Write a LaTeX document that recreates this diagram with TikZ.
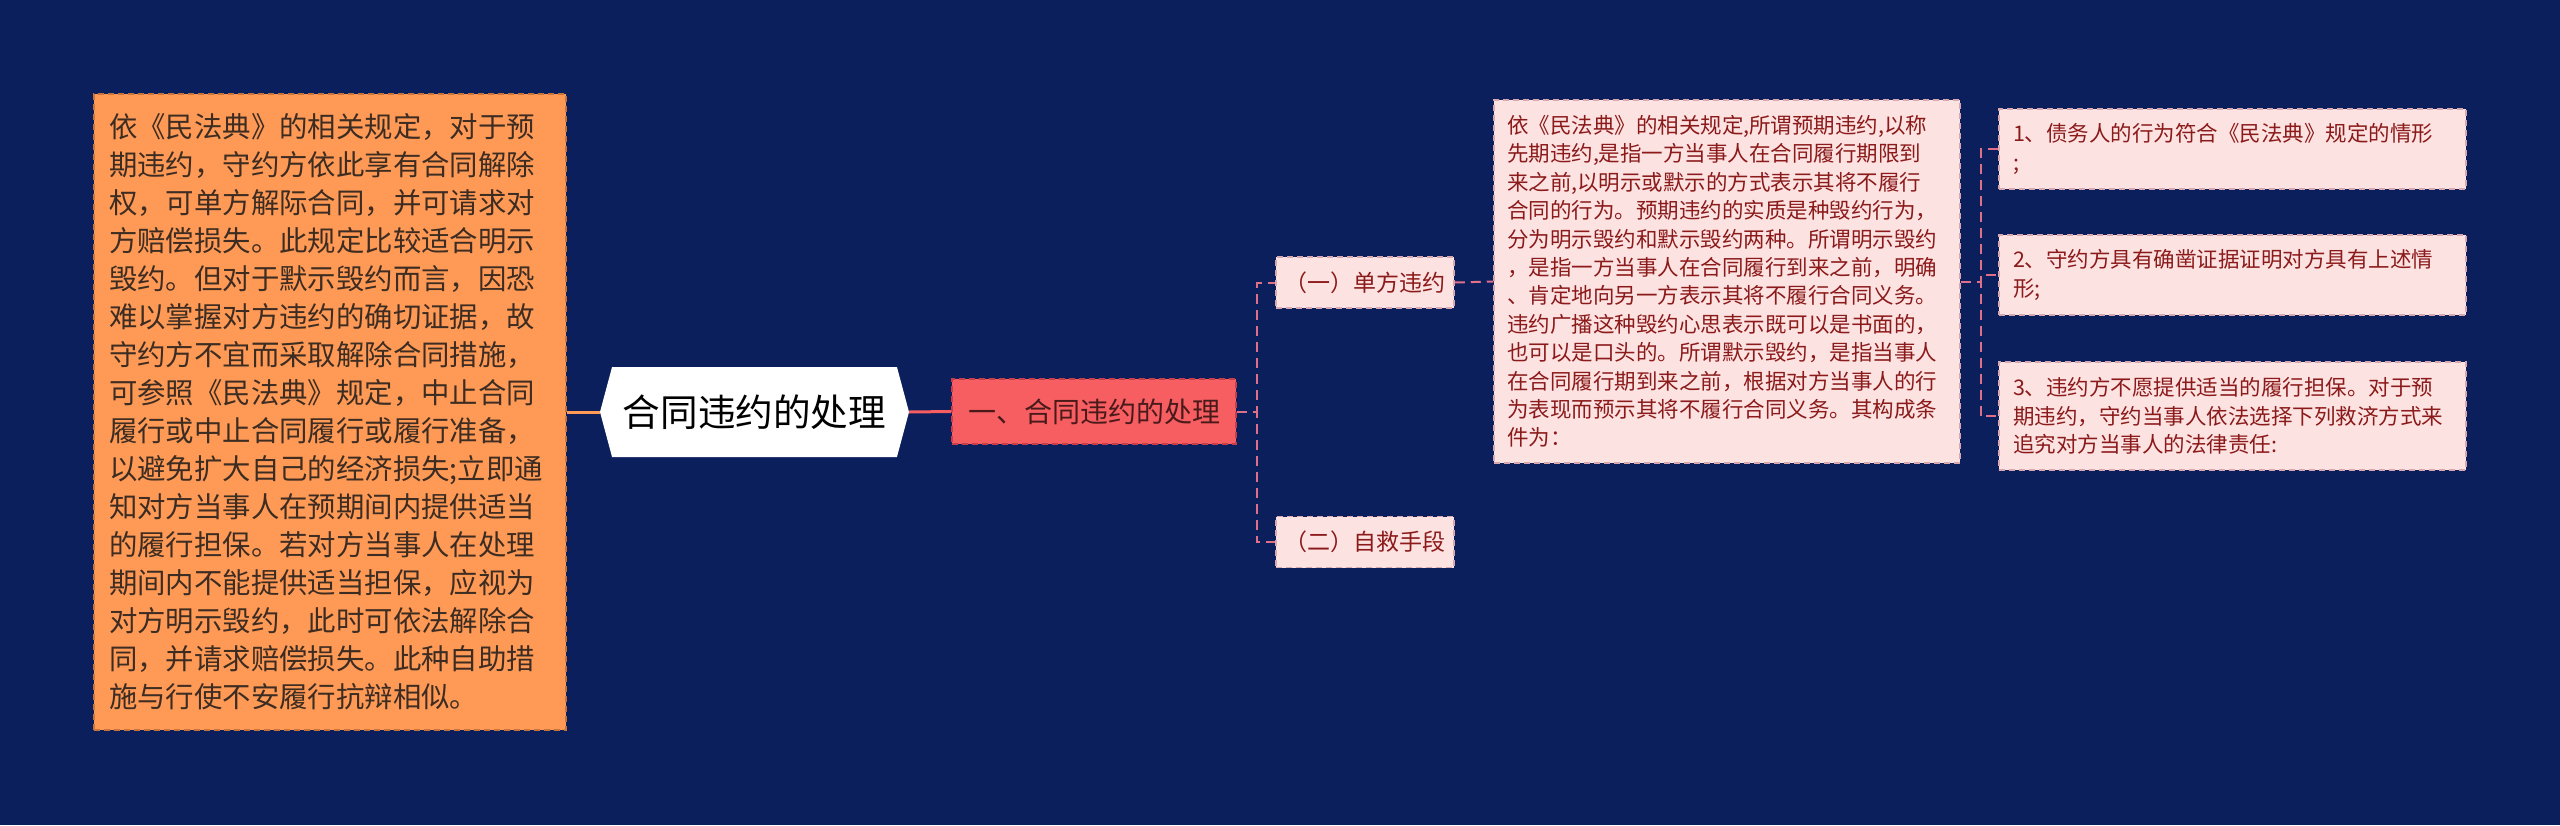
\documentclass[tikz,border=0pt]{standalone}
\usepackage{fontspec}
\setmainfont{Noto Sans CJK SC}
\usetikzlibrary{shapes.symbols}

\definecolor{bgcol}{HTML}{0B1F5C}
\definecolor{orangefill}{HTML}{FF9A56}
\definecolor{orangeline}{HTML}{C8743A}
\definecolor{orangetext}{HTML}{3C2C22}
\definecolor{redfill}{HTML}{F65E62}
\definecolor{redline}{HTML}{C83E48}
\definecolor{redtext}{HTML}{4A1A1A}
\definecolor{pinkfill}{HTML}{FDE2E2}
\definecolor{pinkline}{HTML}{D8A8B0}
\definecolor{pinktext}{HTML}{8B1A1A}
\definecolor{linkcol}{HTML}{E0708A}

\begin{document}
\begin{tikzpicture}[x=1pt,y=-1pt,
  box/.style={draw, dash pattern=on 6pt off 4pt, line width=1.5pt, inner sep=0pt, anchor=center},
  notebox/.style={box, fill=orangefill, draw=orangeline, text=orangetext, inner xsep=15pt,
    text width=442pt, minimum height=636pt, align=left, font=\fontsize{28.4}{38}\selectfont},
  secbox/.style={box, fill=redfill, draw=redline, text=redtext, minimum width=284pt,
    minimum height=65pt, font=\fontsize{28}{34}\selectfont},
  subbox/.style={box, fill=pinkfill, draw=pinkline, text=pinktext, minimum width=178pt,
    minimum height=51pt, font=\fontsize{23}{28}\selectfont},
  textbox/.style={box, fill=pinkfill, draw=pinkline, text=pinktext, inner xsep=13pt,
    align=left, font=\fontsize{21.5}{28.4}\selectfont},
  link/.style={draw=linkcol, line width=2pt, dash pattern=on 10pt off 6pt}]

  % background and page size
  \fill[bgcol] (0,0) rectangle (2560,825);
  \useasboundingbox (0,0) rectangle (2560,825);

  % root and the long note on the left
  \node[shape=signal, signal to=west and east, signal pointer angle=150, fill=white,
    minimum width=309pt, minimum height=90pt, inner sep=0pt,
    font=\fontsize{37.6}{44}\selectfont] (root) at (754.5,412) {合同违约的处理};

  \node[notebox] (note) at (330,412) {依《民法典》的相关规定，对于预\\
期违约，守约方依此享有合同解除\\
权，可单方解际合同，并可请求对\\
方赔偿损失。此规定比较适合明示\\
毁约。但对于默示毁约而言，因恐\\
难以掌握对方违约的确切证据，故\\
守约方不宜而采取解除合同措施，\\
可参照《民法典》规定，中止合同\\
履行或中止合同履行或履行准备，\\
以避免扩大自己的经济损失;立即通\\
知对方当事人在预期间内提供适当\\
的履行担保。若对方当事人在处理\\
期间内不能提供适当担保，应视为\\
对方明示毁约，此时可依法解除合\\
同，并请求赔偿损失。此种自助措\\
施与行使不安履行抗辩相似。};

  % first level
  \node[secbox] (sec1) at (1094,411.5) {一、合同违约的处理};

  % second level
  \node[subbox] (sub1) at (1365,282.5) {（一）单方违约};
  \node[subbox] (sub2) at (1365,542) {（二）自救手段};

  % detail text
  \node[textbox, text width=440pt, minimum height=363pt] (detail) at (1727,281.5)
{依《民法典》的相关规定,所谓预期违约,以称\\
先期违约,是指一方当事人在合同履行期限到\\
来之前,以明示或默示的方式表示其将不履行\\
合同的行为。预期违约的实质是种毁约行为，\\
分为明示毁约和默示毁约两种。所谓明示毁约\\
，是指一方当事人在合同履行到来之前，明确\\
、肯定地向另一方表示其将不履行合同义务。\\
违约广播这种毁约心思表示既可以是书面的，\\
也可以是口头的。所谓默示毁约，是指当事人\\
在合同履行期到来之前，根据对方当事人的行\\
为表现而预示其将不履行合同义务。其构成条\\
件为：};

  % conditions
  \node[textbox, inner xsep=14pt, text width=439pt, minimum height=80pt] (item1) at (2232.5,149)
{1、债务人的行为符合《民法典》规定的情形\\
;};
  \node[textbox, inner xsep=14pt, text width=439pt, minimum height=80pt] (item2) at (2232.5,275)
{2、守约方具有确凿证据证明对方具有上述情\\
形;};
  \node[textbox, inner xsep=14pt, text width=439pt, minimum height=108pt] (item3) at (2232.5,416)
{3、违约方不愿提供适当的履行担保。对于预\\
期违约，守约当事人依法选择下列救济方式来\\
追究对方当事人的法律责任:};

  % connectors
  \draw[orangefill, line width=3pt] (note.east) -- (root.west);
  \draw[redfill, line width=3pt] (root.east) -- (sec1.west);
  \draw[link] (sec1.east) -- ++(20,0) |- (sub1.west);
  \draw[link] (sec1.east) -- ++(20,0) |- (sub2.west);
  \draw[link] (sub1.east) -- (detail.west);
  \draw[link] (detail.east) -- ++(20,0) |- (item1.west);
  \draw[link] (detail.east) -- ++(20,0) |- (item2.west);
  \draw[link] (detail.east) -- ++(20,0) |- (item3.west);
\end{tikzpicture}
\end{document}
